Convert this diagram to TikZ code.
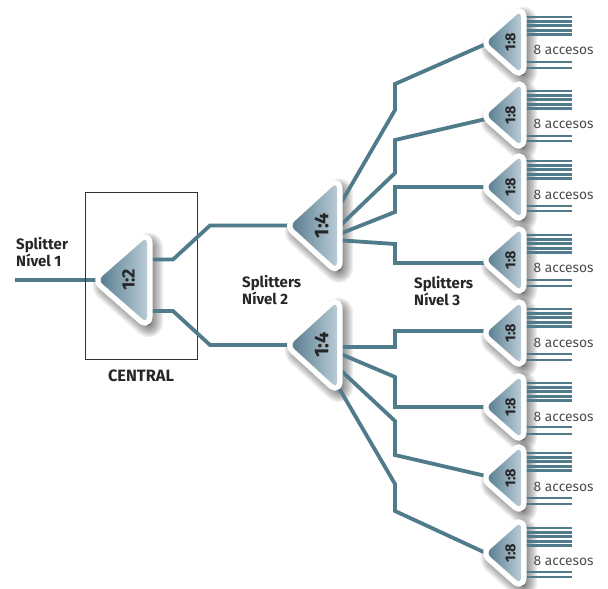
\documentclass[tikz,border=0pt]{standalone}
\usepackage{fontspec}
\setmainfont{Fira Sans}
\usetikzlibrary{calc}
\pgfdeclarelayer{shadow}
\pgfdeclarelayer{back}
\pgfsetlayers{shadow,back,main}
\definecolor{fib}{HTML}{4F7B8A}
\definecolor{gradl}{HTML}{557B8D}
\definecolor{gradr}{HTML}{B9CBD6}
\tikzset{
  x=1pt,y=-1pt,
  fibre/.style={draw=fib,line width=3.8pt,line join=miter},
  strand/.style={draw=fib,line width=2.7pt},
  lbl/.style={font=\bfseries\fontsize{15}{17.5}\selectfont,align=left,text=black!85,inner sep=0pt,anchor=west},
  acc/.style={font=\fontsize{13.8}{15}\selectfont,text=black!70,inner sep=0pt,anchor=west},
  ratio/.style={rotate=90,text=black!85,inner sep=0pt},
}
% name, apex x, centre y, width, half height, label, font size, label shift
\newcommand{\splitter}[8]{%
  \def\tri{(#2,#3) -- (#2+#4,#3-#5) -- (#2+#4,#3+#5) -- cycle}%
  \begin{pgfonlayer}{shadow}
  \foreach \k in {24,21,18,15,12,9,6,3}{%
    \draw[black,opacity=.07,fill=black,line width=\k pt,line join=round,rounded corners=6pt,shift={(4,5)}] \tri;}%
  \end{pgfonlayer}
  \draw[white,fill=white,line width=11pt,line join=round,rounded corners=6pt] \tri;
  \begin{scope}
    \clip[rounded corners=6pt] \tri;
    \shade[left color=gradl,right color=gradr] (#2,#3-#5) rectangle (#2+#4,#3+#5);
  \end{scope}
  \node[minimum width=#4 pt,minimum height=2*#5 pt,inner sep=0pt] (#1) at (#2+#4/2,#3) {};
  \node[ratio,font=\bfseries\fontsize{#7}{#7}\selectfont] (#1l) at (#2+#4/2+#8,#3) {#6};
}
% strands for a 1:8 node: node, top offset, two lower offsets (px below centre)
\newcommand{\strands}[4]{%
  \foreach \d in {0,4.4,8.8,13.2,17.6}{%
    \pgfmathsetmacro{\off}{-(#2+\d)}
    \draw[strand] ([yshift=\off pt]#1.east) -- ++(51,0);}%
  \draw[strand] ([yshift=-#3 pt]#1.east) -- ++(51,0);
  \draw[strand] ([yshift=-#4 pt]#1.east) -- ++(51,0);
}
\begin{document}
\begin{tikzpicture}
\useasboundingbox (0,0) rectangle (608,589);
\splitter{a}{98}{280}{49}{43}{1:2}{18}{6}
\splitter{ba}{290}{225.5}{47}{43}{1:4}{20}{8}
\splitter{bb}{290}{345}{47}{43}{1:4}{20}{8}
\splitter{c1}{486}{42}{35}{31}{1:8}{14.5}{7}
\splitter{c2}{486}{115}{35}{31}{1:8}{14.5}{7}
\splitter{c3}{486}{187}{35}{31}{1:8}{14.5}{7}
\splitter{c4}{486}{260}{35}{31}{1:8}{14.5}{7}
\splitter{c5}{486}{333}{35}{31}{1:8}{14.5}{7}
\splitter{c6}{486}{407}{35}{31}{1:8}{14.5}{7}
\splitter{c7}{486}{478}{35}{31}{1:8}{14.5}{7}
\splitter{c8}{486}{553}{35}{31}{1:8}{14.5}{7}
\foreach \n/\y in {c1/50,c2/124,c3/195,c4/268,c5/343,c6/417,c7/487,c8/561}{
  \node[acc] (t\n) at (533.5,\y) {8 accesos};
}
\node[lbl] (l1) at (16,252) {Splitter\\Nível 1};
\node[lbl,anchor=center,font=\bfseries\fontsize{16.4}{18}\selectfont] (lc) at (141,376) {CENTRAL};
\node[lbl] (l2) at (242,290) {Splitters\\Nível 2};
\node[lbl] (l3) at (414,291) {Splitters\\Nível 3};
\begin{pgfonlayer}{back}
  \coordinate (in) at (15,280);
  \draw[fibre] (in) -- (a.west);
  \node[draw=black!80,line width=.6pt,minimum width=112pt,minimum height=167pt,inner sep=0pt] (box) at (141,275.5) {};
  \draw[fibre] ([yshift=20.5pt]a.east) -- (173,259.5) -- (210,225.5) -- (ba.west);
  \draw[fibre] ([yshift=-31pt]a.east) -- (173,311) -- (210,345) -- (bb.west);
  \draw[fibre] ([yshift=16pt]ba.east) -- (395,110) -- (395,84) -- ([yshift=-2pt]c1.west);
  \draw[fibre] ([yshift=-3pt]ba.east) -- (395,173) -- (395,140) -- ([yshift=-4pt]c2.west);
  \draw[fibre] ([yshift=-9.4pt]ba.east) -- (395,212) -- (395,187) -- (c3.west);
  \draw[fibre] ([yshift=-14.6pt]ba.east) -- (395,244) -- (395,263) -- ([yshift=-3pt]c4.west);
  \draw[fibre] ([yshift=-2pt]bb.east) -- (395,347) -- (395,331) -- ([yshift=2pt]c5.west);
  \draw[fibre] ([yshift=-7.5pt]bb.east) -- (395,377) -- (395,407) -- (c6.west);
  \draw[fibre] ([yshift=-22pt]bb.east) -- (395,421) -- (395,455) -- ([yshift=2pt]c7.west);
  \draw[fibre] ([yshift=-40pt]bb.east) -- (395,484) -- (395,511) -- (c8.west);
  \strands{c1}{-25}{20}{26}
  \strands{c2}{-24}{21}{26}
  \strands{c3}{-26}{19}{24}
  \strands{c4}{-25}{20}{26}
  \strands{c5}{-24}{21}{27}
  \strands{c6}{-24}{20}{27}
  \strands{c7}{-25}{20}{26}
  \strands{c8}{-25}{19}{24}
\end{pgfonlayer}
\end{tikzpicture}
\end{document}
